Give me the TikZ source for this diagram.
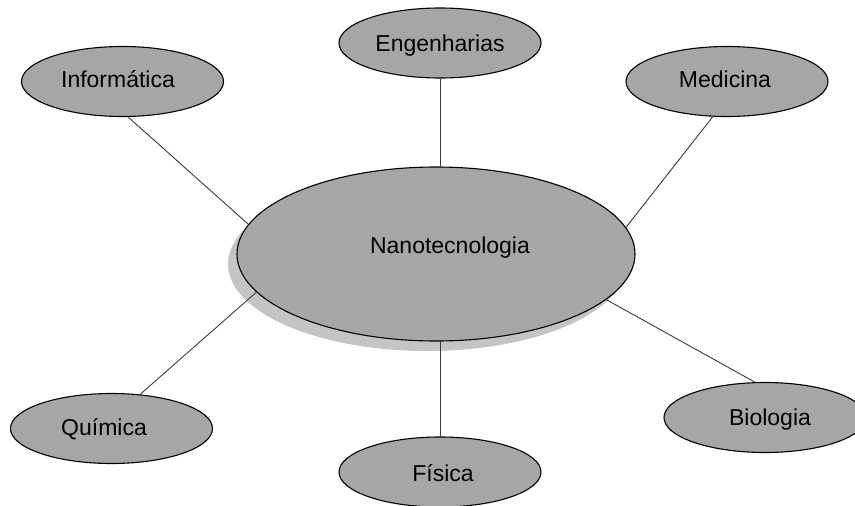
\documentclass[tikz,border=0pt]{standalone}
\usepackage{fontspec}
\setmainfont{Liberation Sans}
\usetikzlibrary{shapes.geometric,shadows}
\definecolor{nodegray}{RGB}{166,166,166}
\definecolor{shadowgray}{RGB}{196,196,196}
\definecolor{linkgray}{RGB}{60,60,60}
\tikzset{
  topic/.style={ellipse, draw=black, line width=1.1pt, fill=nodegray,
    minimum width=202pt, minimum height=70pt, inner sep=0pt},
  hub/.style={topic, minimum width=398pt, minimum height=174pt,
    drop shadow={shadow xshift=-9pt, shadow yshift=-10pt, fill=shadowgray, opacity=1}},
  caption/.style={inner sep=0pt, text height=16.5pt, text depth=0pt,
    font=\fontsize{23}{23}\selectfont, text=black},
  link/.style={draw=linkgray, line width=0.9pt}
}
\begin{document}
\begin{tikzpicture}[x=1pt,y=-1pt]
\useasboundingbox (0,0) rectangle (855,506);

% central topic
\node[hub, label={[caption, xshift=14pt, yshift=9pt]center:Nanotecnologia}] (nano) at (436,254) {};

% surrounding fields
\node[topic, label={[caption, xshift=-4.5pt, yshift=2pt]center:Informática}] (inf) at (122.5,81.5) {};
\node[topic, label={[caption, xshift=0pt]center:Engenharias}] (eng) at (440,43) {};
\node[topic, label={[caption, xshift=-2pt, yshift=2pt]center:Medicina}] (med) at (727,81.5) {};
\node[topic, label={[caption, xshift=-7.5pt, yshift=1pt]center:Química}] (qui) at (111.5,428.5) {};
\node[topic, label={[caption, xshift=3pt, yshift=-1.5pt]center:Física}] (fis) at (440,472) {};
\node[topic, label={[caption, xshift=5pt]center:Biologia}] (bio) at (765,417.5) {};

% connectors
\draw[link] (inf.279) -- (nano.171);
\draw[link] (eng.south) -- (eng.south |- nano.north);
\draw[link] (med.248) -- (nano.8.6);
\draw[link] (qui.50) -- (nano.192.8);
\draw[link] (fis.north) -- (fis.north |- nano.south);
\draw[link] (bio.106) -- (nano.345.6);
\end{tikzpicture}
\end{document}
